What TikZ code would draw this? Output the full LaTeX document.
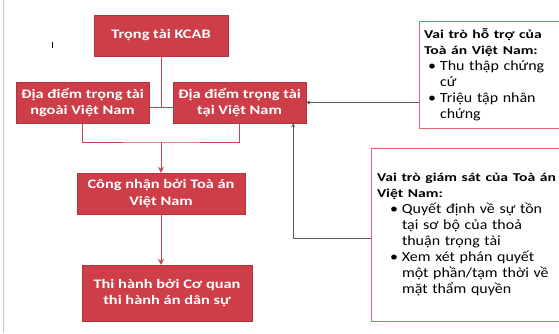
\documentclass[tikz,border=0pt]{standalone}
\usepackage{fontspec}
\setmainfont{Carlito}
\newfontfamily\boxfont{Carlito}[FakeStretch=1.26]
\newfontfamily\notefont{Carlito}[FakeStretch=1.14]
\newfontfamily\headfont{Carlito}[FakeStretch=1.3]
\usetikzlibrary{arrows.meta}

\definecolor{boxred}{RGB}{206,62,72}
\definecolor{linered}{RGB}{196,70,76}
\definecolor{edgepink}{RGB}{226,100,112}
\definecolor{arrowgray}{RGB}{90,90,90}

\newcommand{\bul}{\makebox[12pt][l]{•}}
\newcommand{\ind}{\hspace*{12pt}}
\newcommand{\notehead}[1]{{\headfont\bfseries\fontsize{12}{16}\selectfont #1}}

\tikzset{
  redbox/.style={draw=boxred!85!black, fill=boxred, text=white, align=center,
    font=\boxfont\fontsize{13}{16.5}\selectfont\bfseries, inner sep=2pt},
  notebox/.style={draw=edgepink, fill=white, align=left, inner ysep=0pt,
    font=\notefont\fontsize{14}{16}\selectfont},
  redline/.style={draw=linered, line width=1pt},
  grayline/.style={draw=arrowgray, line width=1pt},
}

\begin{document}
\begin{tikzpicture}[x=1pt, y=-1pt]
    \useasboundingbox (0,0) rectangle (559,333);
    \clip (0,0) rectangle (559,333);
    % page edge and cursor mark
    \draw[black!22] (3,0) -- (3,333);
    \draw[black, line width=0.8pt] (52,42) -- (52,48);

    % main flow boxes with absolute coordinates
    \node[redbox, minimum width=134pt, minimum height=41pt] (kcab) at (161,35.5) {Trọng tài KCAB};
    \node[redbox, minimum width=133pt, minimum height=41pt] (ngoai) at (82.5,102.5) {Địa điểm trọng tài\\ngoài Việt Nam};
    \node[redbox, minimum width=133pt, minimum height=41pt] (tai) at (239.5,102.5) {Địa điểm trọng tài\\tại Việt Nam};
    \node[redbox, minimum width=168pt, minimum height=41pt] (congnhan) at (161,193.5) {Công nhận bởi Toà án\\Việt Nam};
    \node[redbox, minimum width=170pt, minimum height=56pt] (thihanh) at (167,293) {Thi hành bởi Cơ quan\\thi hành án dân sự};

    % side notes
    \node[notebox, inner xsep=5pt, text width=146pt, minimum height=107pt] (hotro) at (497,74.5)
      {\notehead{Vai trò hỗ trợ của}\\\notehead{Toà án Việt Nam:}\\\hspace*{4pt}\bul Thu thập chứng\\\hspace*{4pt}\ind cứ\\\hspace*{4pt}\bul Triệu tập nhân\\\hspace*{4pt}\ind chứng};
    \node[notebox, inner xsep=6pt, text width=192pt, minimum height=173pt] (giamsat) at (473,234.5)
      {\notehead{Vai trò giám sát của Toà án}\\\notehead{Việt Nam:}\\\hspace*{13pt}\bul Quyết định về sự tồn\\\hspace*{13pt}\ind tại sơ bộ của thoả\\\hspace*{13pt}\ind thuận trọng tài\\\hspace*{13pt}\bul Xem xét phán quyết\\\hspace*{13pt}\ind một phần/tạm thời về\\\hspace*{13pt}\ind mặt thẩm quyền};

    % join points
    \coordinate (jtop) at (161,107);
    \coordinate (jbot) at (161,142);

    \path[redline] (kcab) -- (jtop);
    \path[redline] (ngoai.east |- jtop) -- (tai.west |- jtop);
    \path[redline] (ngoai.south) |- (jbot) -| (tai.south);
    \path[redline, -{Stealth[length=6pt, width=6pt]}] (jbot) -- (congnhan.north);
    \path[redline, -{Stealth[length=6pt, width=6pt]}] (congnhan.south) -- (congnhan.south |- thihanh.north);
    \path[grayline, -{Stealth[length=4pt, width=4pt]}] (hotro.west |- tai.east) -- (tai.east);
    \path[grayline, -{Stealth[length=4pt, width=4pt]}] ([yshift=-3.5pt]giamsat.west) -| ([xshift=-13pt]tai.south east);
\end{tikzpicture}
\end{document}
